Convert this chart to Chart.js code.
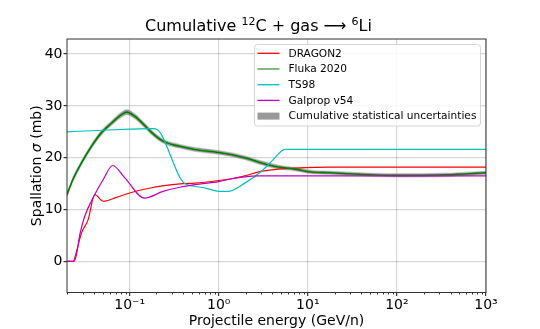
<!DOCTYPE html>
<html>
<head>
<meta charset="utf-8">
<script src="https://cdn.jsdelivr.net/npm/chart.js@4/dist/chart.umd.min.js"></script>
<style>
html,body{margin:0;padding:0;background:#fff;}
#wrap{position:relative;width:540px;height:329px;}
</style>
</head>
<body>
<div id="wrap"><canvas id="c" width="540" height="329"></canvas></div>
<script>
// ---- data ----
const dragonE = [0.0198, 0.0232, 0.0253, 0.0288, 0.0342, 0.0406, 0.0505, 0.07, 0.1, 0.176, 0.3, 0.397, 0.537, 1.0, 1.33, 1.96, 3.02, 4.65, 7.15, 17.7, 100, 1000];
const dragonS = [0, 0, 1.9, 5.5, 8.05, 12.9, 11.6, 12.3, 13.2, 14.2, 14.8, 15.0, 15.1, 15.6, 15.9, 16.5, 17.4, 17.8, 18.0, 18.2, 18.2, 18.2];

const flukaE = [0.0198, 0.0232, 0.0288, 0.0373, 0.047, 0.0628, 0.081, 0.0924, 0.114, 0.148, 0.176, 0.237, 0.364, 0.537, 1.0, 1.96, 3.02, 4.65, 7.15, 11.5, 17.7, 27.3, 100, 365, 1000];
const flukaS = [12.9, 15.9, 19.0, 22.2, 24.6, 26.7, 28.3, 28.8, 28.0, 26.2, 24.9, 23.2, 22.2, 21.6, 21.0, 20.0, 19.0, 18.2, 17.8, 17.2, 17.1, 16.9, 16.6, 16.7, 17.1];
const flukaErr = [0.35, 0.35, 0.35, 0.35, 0.4, 0.4, 0.45, 0.45, 0.45, 0.4, 0.4, 0.35, 0.35, 0.35, 0.35, 0.35, 0.35, 0.35, 0.3, 0.3, 0.3, 0.3, 0.3, 0.3, 0.3];

const ts98E = [0.0198, 0.05, 0.1, 0.182, 0.205, 0.225, 0.397, 0.537, 0.727, 1.0, 1.27, 1.96, 3.02, 3.92, 5.16, 5.6, 1000];
const ts98S = [25.0, 25.3, 25.5, 25.6, 25.4, 24.6, 15.3, 14.5, 14.1, 13.5, 13.5, 15.1, 17.4, 19.3, 21.4, 21.6, 21.6];

const galpropE = [0.0198, 0.0236, 0.0253, 0.0276, 0.0313, 0.0406, 0.0505, 0.0645, 0.0883, 0.147, 0.237, 0.364, 0.537, 1.0, 1.27, 1.96, 2.77, 1000];
const galpropS = [0, 0, 1.3, 5.2, 8.7, 12.9, 15.8, 18.5, 16.1, 12.2, 13.5, 14.3, 14.8, 15.4, 15.8, 16.3, 16.5, 16.5];

const xTicks = [0.1, 1, 10, 100, 1000];
const xTickLabels = ['10\u207B\u00B9', '10\u2070', '10\u00B9', '10\u00B2', '10\u00B3'];
const yTicks = [0, 10, 20, 30, 40];

const legendLabels = ['DRAGON2', 'Fluka 2020', 'TS98', 'Galprop v54', 'Cumulative statistical uncertainties'];

// ---- build datasets ----
const pts = (E, S) => E.map((e, i) => ({x: e, y: S[i]}));
const FONT = "'DejaVu Sans', sans-serif";

const COL = {red: '#ff0000', green: '#008000', cyan: '#00bfbf', magenta: '#bf00bf', band: 'rgba(100,100,100,0.6)'};

const bandUpper = flukaE.map((e, i) => ({x: e, y: flukaS[i] + flukaErr[i]}));
const bandLower = flukaE.map((e, i) => ({x: e, y: flukaS[i] - flukaErr[i]}));

const common = {pointRadius: 0, cubicInterpolationMode: 'monotone', fill: false};

// lower "order" is drawn on top
const datasets = [
  Object.assign({}, common, {label: 'bandLow', order: 9, data: bandLower, borderColor: 'rgba(128,128,128,0.3)', borderWidth: 1.5}),
  Object.assign({}, common, {label: 'bandUp', order: 8, data: bandUpper, borderColor: 'rgba(128,128,128,0.3)', borderWidth: 1.5, fill: '-1', backgroundColor: COL.band}),
  Object.assign({}, common, {label: legendLabels[0], order: 4, data: pts(dragonE, dragonS), borderColor: COL.red, borderWidth: 1.2}),
  Object.assign({}, common, {label: legendLabels[1], order: 3, data: pts(flukaE, flukaS), borderColor: COL.green, borderWidth: 1.6}),
  Object.assign({}, common, {label: legendLabels[2], order: 2, data: pts(ts98E, ts98S), borderColor: COL.cyan, borderWidth: 1.2}),
  Object.assign({}, common, {label: legendLabels[3], order: 1, data: pts(galpropE, galpropS), borderColor: COL.magenta, borderWidth: 1.2})
];

const AREA = {left: 67, right: 486, top: 39, bottom: 292.5};

const decor = {
  id: 'decor',
  afterDraw(chart) {
    const ctx = chart.ctx;
    const ca = chart.chartArea;
    const xs = chart.scales.x;
    ctx.save();
    // frame
    ctx.strokeStyle = '#333';
    ctx.lineWidth = 1;
    ctx.strokeRect(ca.left, ca.top, ca.right - ca.left, ca.bottom - ca.top);
    // minor ticks on x
    ctx.beginPath();
    for (let d = -2; d < 3; d++) {
      for (let m = 2; m <= 9; m++) {
        const v = m * Math.pow(10, d);
        if (v < xs.min || v > xs.max) continue;
        const px = Math.round(xs.getPixelForValue(v)) + 0.5;
        ctx.moveTo(px, ca.bottom);
        ctx.lineTo(px, ca.bottom + 2);
      }
    }
    ctx.stroke();

    // title
    ctx.fillStyle = '#000';
    ctx.textBaseline = 'alphabetic';
    const parts = [
      {t: 'Cumulative ', s: 16, dy: 0},
      {t: '12', s: 11, dy: -6.5},
      {t: 'C + gas ', s: 16, dy: 0},
      {t: '\u27F6', s: 16, dy: 0},
      {t: ' ', s: 16, dy: 0},
      {t: '6', s: 11, dy: -6.5},
      {t: 'Li', s: 16, dy: 0}
    ];
    let w = 0;
    parts.forEach(p => { ctx.font = p.s + 'px ' + FONT; p.w = ctx.measureText(p.t).width; w += p.w; });
    let x = 258.5 - w / 2;
    const by = 31;
    parts.forEach(p => { ctx.font = p.s + 'px ' + FONT; ctx.fillText(p.t, x, by + p.dy); x += p.w; });

    // x axis title
    ctx.font = '14px ' + FONT;
    ctx.textAlign = 'center';
    ctx.fillText('Projectile energy (GeV/n)', (ca.left + ca.right) / 2, 325);

    // y axis title
    ctx.save();
    ctx.translate(41, (ca.top + ca.bottom) / 2);
    ctx.rotate(-Math.PI / 2);
    const yp = [
      {t: 'Spallation ', f: '14px ' + FONT},
      {t: '\u03C3', f: 'italic 14px ' + FONT},
      {t: ' (mb)', f: '14px ' + FONT}
    ];
    let yw = 0;
    yp.forEach(p => { ctx.font = p.f; p.w = ctx.measureText(p.t).width; yw += p.w; });
    let yx = -yw / 2;
    ctx.textAlign = 'left';
    yp.forEach(p => { ctx.font = p.f; ctx.fillText(p.t, yx, 0); yx += p.w; });
    ctx.restore();

    // legend
    const lx = 254.5, ly = 44.5, lw = 226, lh = 81.5;
    ctx.fillStyle = 'rgba(255,255,255,0.85)';
    ctx.strokeStyle = '#d5d5d5';
    ctx.lineWidth = 1;
    ctx.beginPath();
    if (ctx.roundRect) ctx.roundRect(lx, ly, lw, lh, 3); else ctx.rect(lx, ly, lw, lh);
    ctx.fill();
    ctx.stroke();
    const entries = [
      {label: legendLabels[0], c: COL.red, type: 'line'},
      {label: legendLabels[1], c: '#3a9a3a', type: 'line'},
      {label: legendLabels[2], c: COL.cyan, type: 'line'},
      {label: legendLabels[3], c: COL.magenta, type: 'line'},
      {label: legendLabels[4], c: '#999999', type: 'patch'}
    ];
    ctx.font = '10.6px ' + FONT;
    ctx.textAlign = 'left';
    ctx.textBaseline = 'middle';
    entries.forEach((e, i) => {
      const cy = 53.3 + i * 15.7;
      if (e.type === 'line') {
        ctx.strokeStyle = e.c;
        ctx.lineWidth = 1.3;
        ctx.beginPath();
        ctx.moveTo(257.5, cy);
        ctx.lineTo(279.5, cy);
        ctx.stroke();
      } else {
        ctx.fillStyle = e.c;
        ctx.fillRect(257.5, cy - 3.5, 22, 7);
      }
      ctx.fillStyle = '#000';
      ctx.fillText(e.label, 288.5, cy + 0.5);
    });
    ctx.restore();
  }
};

new Chart(document.getElementById('c'), {
  type: 'line',
  data: {datasets},
  plugins: [decor],
  options: {
    responsive: false,
    animation: false,
    events: [],
    layout: {padding: {top: AREA.top, right: 540 - AREA.right, left: 0, bottom: 0}},
    plugins: {legend: {display: false}, title: {display: false}, tooltip: {enabled: false}},
    scales: {
      x: {
        type: 'logarithmic',
        min: 0.0198,
        max: 1000,
        afterFit(s) { s.height = 329 - AREA.bottom; },
        afterBuildTicks(s) { s.ticks = xTicks.map(v => ({value: v})); },
        grid: {color: 'rgba(0,0,0,0.16)', lineWidth: 1.2, tickLength: 3.5, tickColor: '#333', drawOnChartArea: true},
        border: {display: false},
        ticks: {
          autoSkip: false, maxRotation: 0, padding: 1,
          color: '#000', font: {family: FONT, size: 14},
          callback: (v) => { const i = xTicks.indexOf(v); return i >= 0 ? xTickLabels[i] : ''; }
        }
      },
      y: {
        type: 'linear',
        min: -6,
        max: 42.9,
        afterFit(s) { s.width = AREA.left; },
        afterBuildTicks(s) { s.ticks = yTicks.map(v => ({value: v})); },
        grid: {color: 'rgba(0,0,0,0.16)', lineWidth: 1.2, tickLength: 3.5, tickColor: '#333'},
        border: {display: false},
        ticks: {padding: 1, color: '#000', font: {family: FONT, size: 14}}
      }
    }
  }
});
</script>
</body>
</html>
